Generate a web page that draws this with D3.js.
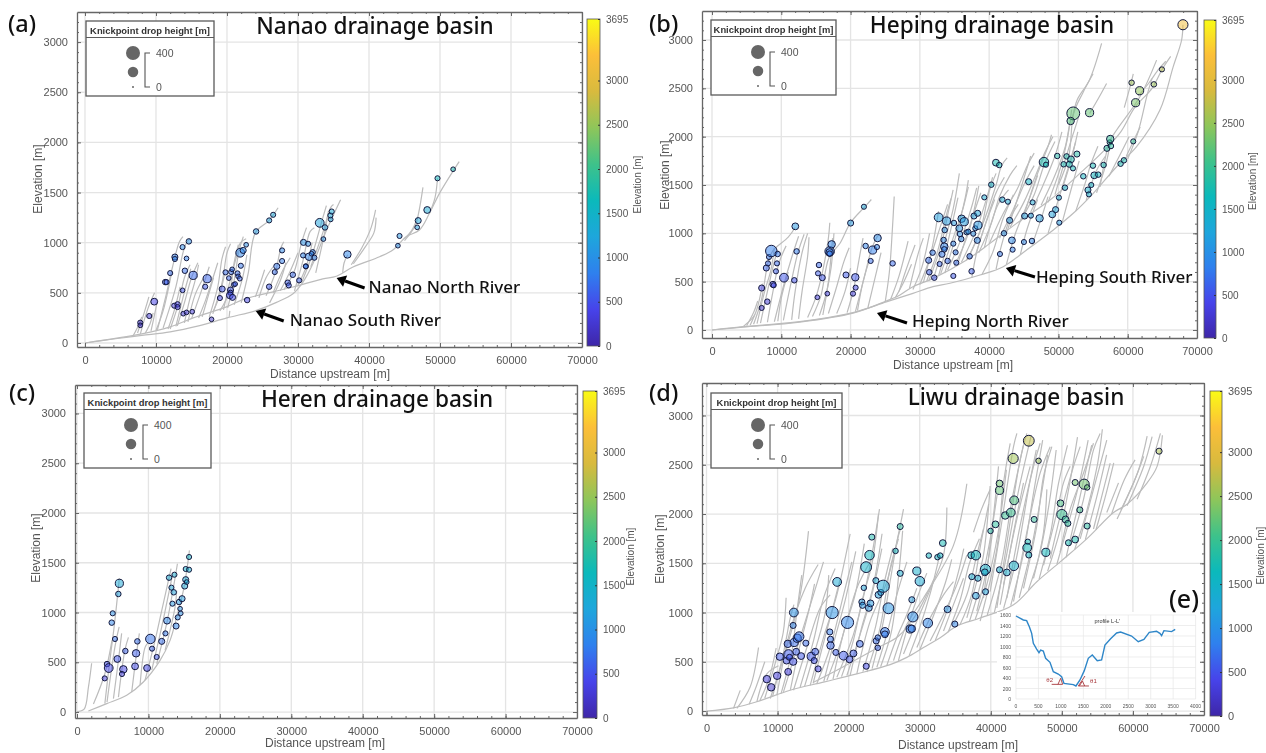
<!DOCTYPE html>
<html>
<head>
<meta charset="utf-8">
<style>
body { margin: 0; background: #fff; }
svg { filter: blur(0.4px); }
text { font-family: "Liberation Sans", Arial, sans-serif; fill: #555; }
.big { font-family: "Noto Sans", sans-serif; fill: #111; font-weight: 500; }
</style>
<script src="https://cdn.jsdelivr.net/npm/d3@7"></script>
</head>
<body>
<svg id="vimage" width="1266" height="753"></svg>
<script>
//---------------------------------------- data: [distance, elevation, drop] ---------------------------------------
var nanaoKnicks = [[7780,203,15],[7780,176,10],[9050,269,15],[9755,412,45],[11300,607,20],[11490,607,15],[12000,697,15],[12660,857,30],[12660,837,15],[13740,956,15],[14630,1013,20],[14300,843,10],[14070,720,20],[13740,525,10],[15240,674,80],[12570,372,15],[13040,385,20],[13040,358,15],[13840,292,10],[14300,305,10],[15100,312,10],[17210,641,80],[16930,561,15],[17820,236,10],[19000,448,15],[19320,538,30],[19790,704,15],[20590,707,15],[20730,734,10],[20260,647,10],[20500,528,30],[20500,501,15],[20400,475,45],[20780,455,30],[20970,581,10],[21150,588,10],[21480,694,15],[21570,664,10],[21800,641,10],[21950,770,15],[21860,900,100],[22280,923,30],[22700,979,10],[22840,428,20],[24100,1112,20],[25940,1222,15],[26500,1278,15],[25940,561,20],[26730,707,15],[27010,764,30],[27760,817,15],[27760,923,15],[28560,601,20],[28700,574,15],[29270,680,20],[30160,624,15],[30770,1003,30],[31420,989,15],[30720,873,15],[31560,860,60],[32080,906,15],[31900,890,10],[32310,850,15],[31100,764,15],[31100,764,10],[33060,1198,100],[33800,1152,20],[33580,1036,10],[34610,1232,10],[34560,1272,15],[34750,1311,15],[36960,883,60],[44070,970,10],[44300,1067,15],[46790,1153,10],[46930,1220,30],[48200,1326,45],[49650,1642,15],[51850,1732,10]];

var hepingKnicks = [[7170,228,15],[7980,293,20],[7170,434,30],[8800,472,30],[8900,462,15],[7840,641,30],[8080,689,15],[8225,755,15],[8560,817,210],[9476,786,20],[9380,689,15],[9235,607,15],[10390,541,100],[11880,514,20],[12220,813,20],[12025,1072,45],[15200,338,10],[15300,586,15],[15440,672,20],[15920,541,30],[16640,376,10],[16980,813,125],[16980,803,60],[16980,790,20],[17270,886,60],[19340,569,30],[20010,1106,30],[20680,545,60],[20730,438,15],[20350,376,15],[21930,1275,15],[22170,869,20],[23180,827,80],[22900,714,15],[23810,858,15],[23900,951,60],[26070,689,20],[32080,541,20],[31360,597,20],[31270,721,30],[32850,683,15],[31840,800,20],[33190,783,30],[33530,862,60],[33530,834,20],[33430,931,20],[34010,714,20],[34830,559,15],[35160,803,15],[35260,696,15],[34830,893,15],[33580,1034,20],[32710,1165,100],[33860,1127,80],[34920,1107,20],[35690,1052,45],[35790,993,20],[35980,941,20],[36030,1151,60],[36410,1120,80],[36750,1010,15],[36990,1017,15],[37710,996,15],[38000,1052,15],[37810,1179,30],[38340,1207,30],[38390,1083,80],[38290,927,30],[37180,762,20],[37470,607,20],[39300,1372,15],[40310,1503,20],[40980,1731,45],[41460,1706,20],[41900,1348,20],[42710,1327,15],[42950,1134,30],[42140,1000,20],[43290,927,45],[43390,831,15],[41560,786,15],[45020,910,15],[46180,921,20],[45120,1179,30],[46030,1183,15],[47280,1155,60],[45700,1534,30],[46270,1320,15],[47910,1737,125],[48200,1710,15],[49830,1800,20],[49110,1196,45],[49590,1245,30],[50120,1110,15],[50070,1369,15],[50940,1472,20],[51180,1796,20],[51810,1765,45],[50750,1714,20],[51570,1714,30],[52100,1672,15],[52670,1820,30],[52140,2241,280],[51760,2162,60],[54500,2248,80],[53590,1590,20],[54980,1700,20],[54260,1448,30],[54740,1500,15],[54400,1403,15],[55170,1600,45],[55750,1607,20],[56520,1707,20],[57000,1879,30],[57390,1941,15],[57480,1976,60],[57580,1903,20],[58970,1720,20],[59450,1755,20],[60800,1951,15],[61140,2351,80],[61720,2475,80],[60560,2558,20],[63780,2541,20],[64940,2696,15],[67970,3158,150]];

var herenKnicks = [[3880,338,15],[4200,482,20],[4440,442,100],[5320,734,15],[4860,898,20],[5000,992,15],[5790,1186,20],[5930,1293,80],[5650,533,45],[6490,429,60],[6300,382,15],[6770,613,20],[8130,459,45],[8270,590,60],[8450,710,20],[9810,442,45],[10270,734,125],[10510,637,15],[11160,553,15],[11860,710,30],[12380,790,15],[12610,918,45],[12890,1350,20],[13220,1250,15],[13540,1203,20],[13640,1380,15],[13360,1089,15],[13870,864,30],[14100,951,15],[14290,1105,20],[14520,992,10],[14430,1038,10],[14710,1139,30],[15080,1266,30],[15220,1330,30],[15360,1306,10],[15220,1437,15],[15690,1430,15],[15690,1558,15]];

var liwuKnicks = [[8490,324,60],[9100,241,60],[9940,358,60],[10320,552,60],[11490,398,45],[11440,682,60],[11260,512,45],[11540,575,125],[11680,545,30],[12190,502,60],[12330,696,80],[12620,602,45],[12760,739,80],[13040,756,125],[13320,558,45],[13980,689,30],[12190,869,30],[12290,1000,100],[14730,555,80],[15290,602,45],[15150,512,30],[15710,428,30],[17350,803,30],[17450,729,30],[17450,665,60],[17680,1000,245],[18200,595,30],[18380,1311,100],[19280,562,100],[19840,900,245],[20120,525,45],[20680,585,45],[21570,682,45],[22470,455,30],[21860,1107,30],[21950,1073,30],[22140,1251,20],[22460,1461,180],[22840,1047,45],[23070,1093,45],[22940,1582,125],[23260,1766,30],[23830,1324,30],[23870,712,30],[24100,746,20],[24100,642,20],[24200,1180,45],[24530,1204,30],[24860,1267,245],[25100,803,100],[25100,779,45],[25600,1043,180],[26600,1625,20],[27250,1873,30],[27250,1398,30],[28890,1130,30],[28660,833,80],[28890,836,60],[29030,956,150],[29590,1421,80],[30020,1318,125],[31140,893,125],[31280,1578,20],[32500,1562,20],[32880,1578,20],[33250,1705,45],[33910,1033,45],[34940,883,30],[37240,1582,45],[37900,1582,125],[37330,1364,30],[38180,1348,30],[37900,1170,45],[39260,1211,30],[39250,1438,150],[39160,1408,45],[39960,1828,20],[40660,1895,45],[42020,1985,60],[42820,2015,100],[41230,2240,80],[41230,2310,45],[43150,2564,150],[45350,2744,180],[46720,2540,20],[43290,2139,100],[46100,1945,30],[45210,1718,20],[45120,1658,100],[45350,1584,30],[47750,1611,80],[43240,1474,125],[42260,1407,45],[41230,1434,30],[49810,2109,45],[50000,1995,150],[50510,1945,45],[50840,1905,30],[52530,2042,30],[51870,2320,30],[53140,2303,150],[53560,2270,20],[53560,1878,30],[50930,1708,30],[51870,1741,45],[63680,2638,30]];

//---------------------------------------- data: channels as [distance, elevation] ---------------------------------------
var nanaoChannels = [
  [[0,0],[4000,40],[8000,75],[12000,110],[16000,170],[20000,250],[24150,325],[26970,405],[29300,491],[30700,607],[32100,790],[34000,1122],[36000,1428]],
  [[0,0],[8000,90],[12000,160],[15240,250],[19930,360],[22500,440],[26500,510],[29300,558],[33500,640],[35400,665],[37750,757],[41490,860],[43360,927],[45240,1060],[47100,1126],[48520,1293],[49930,1492],[52700,1808]],
  [[45000,1020],[46500,1170],[47000,1300],[47600,1552]],[[45000,1040],[46000,1120],[46900,1260]],[[48500,1290],[49300,1450],[49650,1642]],
  [[37500,780],[39000,950],[40300,1150],[40930,1326]],[[37800,790],[39500,960],[40700,1100],[41000,1250]],[[36300,700],[36500,800],[37000,880]],
  [[7400,100],[8200,270],[9000,460]],[[7800,90],[8800,330],[9800,500]],[[9300,120],[9700,250],[10200,420]],
  [[10200,130],[11500,500],[12300,750],[13300,1010],[13800,1060]],[[11000,150],[12800,560],[13800,900],[14300,1000],[14800,1040]],
  [[12000,140],[13200,400],[14000,650],[14800,780]],[[13000,170],[14000,400],[15000,650],[15900,800]],[[14000,200],[14700,420],[15500,620],[16000,780]],
  [[15000,240],[16300,500],[17500,760]],[[16500,260],[17400,480],[18100,650]],[[17500,260],[18700,560],[19300,840],[19800,960]],
  [[18000,290],[19300,600],[20000,900],[20500,990]],[[19500,330],[20500,640],[21300,850],[21900,1000],[22700,1040]],[[20100,350],[21000,620],[21700,920],[22300,1060]],
  [[20300,260],[20400,320]],[[22000,400],[23000,700],[24000,1100],[25900,1220],[27200,1348]],[[24500,450],[25500,650],[26500,760]],
  [[25500,470],[26800,700],[27600,950],[28000,1010]],[[26000,400],[27500,620],[28300,800]],[[28000,530],[29500,720],[30500,1000],[31200,1150]],
  [[29500,520],[30700,820],[31700,1110],[32300,1150]],[[30500,600],[32000,880],[33300,1200],[34000,1370]],[[31800,760],[33500,1100],[34600,1350],[35000,1380]],
  [[6800,75],[7500,170],[8000,260]],[[8500,100],[9200,200],[9600,300]],[[10000,125],[11000,320],[12200,700]],
  [[11700,140],[12600,330],[13400,560]],[[12800,165],[13900,480],[14900,740]],[[14500,210],[15500,480],[16700,650]],
  [[16000,250],[17000,430],[18700,800]],[[18000,310],[18800,440],[19700,700]],[[19000,320],[20400,520],[21000,800],[21600,980]],
  [[21000,380],[22200,650],[22800,880]],[[24000,460],[24800,620],[25300,730]],[[26500,500],[27900,730],[28900,850]],
  [[27500,520],[28800,700],[30000,900]],[[30000,575],[31100,750],[32000,1000]],[[32500,700],[33700,1080],[34300,1320]]
];

var hepingChannels = [
  [[0,0],[4470,34],[12650,86],[20350,180],[25160,290],[29000,379],[31890,448],[34345,483],[38680,569],[42040,655],[45410,828],[49260,1035],[52140,1207],[55030,1414],[58400,1689],[61280,1896],[64650,2275],[66570,2724],[67780,3000],[67970,3158]],
  [[0,0],[4470,30],[12650,82],[20350,175],[25160,300],[27130,362],[29000,448],[31940,534],[36750,724],[40120,896],[43960,1103],[48780,1344],[53100,1620],[56500,1850],[59000,2050],[61000,2300],[63500,2500],[65000,2700],[66200,2830]],
  [[4500,35],[5800,120],[6200,160]],[[6000,60],[7100,300],[8100,700],[8800,820],[11000,960],[12000,1060]],[[7000,70],[8000,400],[9300,780],[9600,820]],
  [[8000,80],[8800,400],[9700,700],[10700,870]],[[9000,85],[10300,450],[11500,750],[12500,970]],[[10300,100],[11300,450],[12400,800],[13300,990]],
  [[11500,105],[12000,400],[13000,800],[13800,1000]],[[13800,130],[15000,340],[16000,620],[16800,950],[17000,1110]],[[14500,140],[15700,350],[16900,750],[18500,900],[20000,1110],[22000,1270],[23000,1350]],
  [[15500,150],[16500,380],[17200,650],[17600,1000]],[[16800,170],[18000,450],[19000,700],[19800,850]],[[19500,180],[20300,380],[20800,560],[21400,800],[21800,950]],
  [[20700,190],[22000,550],[23000,830],[23800,960],[24200,1000]],[[25000,290],[25600,600],[26000,1000],[26300,1380]],[[25800,320],[27000,560],[28300,920]],
  [[27000,400],[28000,620],[29300,880]],[[28500,430],[29800,800],[30500,950]],
  [[30000,470],[31500,750],[33000,1080],[34000,1300]],[[31000,510],[32500,800],[33800,1180],[34500,1360]],[[32000,540],[33500,900],[34800,1250],[35700,1620]],
  [[33000,580],[34800,950],[36200,1250],[37000,1480]],[[34000,620],[36000,950],[37500,1280],[38200,1470]],[[35000,660],[37000,1000],[38000,1300],[38500,1490]],
  [[36000,700],[38000,1010],[39500,1330],[40500,1580]],[[37000,740],[39000,1080],[41000,1500],[41800,1700],[42600,1780]],[[38500,800],[40300,1100],[41500,1380],[43000,1600],[44000,1700]],
  [[40000,890],[42000,1200],[44000,1450],[45500,1700],[46500,1830]],[[41500,950],[43500,1250],[45200,1530],[46500,1700]],[[43000,1060],[45000,1320],[47000,1650],[48000,1830],[49200,2000]],
  [[44500,1120],[46500,1400],[48000,1720],[49500,1950]],[[46000,1220],[47800,1500],[49500,1800],[50500,2050]],[[47500,1290],[49500,1600],[51000,1900],[51700,2150],[52000,2200],[52700,2380],[54500,2590],[56230,2965]],
  [[50000,1500],[51500,1800],[52200,2240],[53500,2450],[55000,2650]],[[54500,2240],[55800,2400],[56950,2550]],
  [[37500,540],[38200,800],[39500,1100],[40800,1350]],[[39000,580],[40500,800],[42000,1150],[43500,1400]],[[41000,630],[41800,880],[43000,1150],[44200,1300]],
  [[42500,680],[43800,1000],[45500,1300],[47000,1600]],[[44500,780],[45500,1050],[47000,1350]],[[46200,880],[47500,1150],[48500,1380]],
  [[48500,1000],[50000,1350],[51500,1700],[52500,1950]],[[50500,1100],[52000,1500],[53000,1750]],[[52500,1230],[54000,1550],[54600,1700],[55700,1900]],
  [[54000,1340],[55500,1650],[56800,1800]],[[56000,1480],[57400,1950],[58400,2069],[61760,2413],[64170,2792]],[[59800,1800],[60800,1950],[61800,2100]],[[59500,2300],[60500,2560],[60800,2650]],
  [[61500,2420],[63000,2550],[64500,2700],[65500,2780]],
  [[5000,45],[6000,180],[6600,300]],[[5500,50],[6500,220],[7300,480]],[[6500,65],[7600,400],[8500,620],[9000,850]],
  [[9500,90],[10000,330],[11000,600]],[[12500,115],[13000,400],[13800,760],[14000,960]],[[16000,155],[16800,500],[17400,950]],
  [[18000,170],[19200,400],[20000,640]],[[21000,200],[21800,500],[22700,720]],[[22500,230],[23400,500],[24400,800]],
  [[26500,340],[27700,500],[28800,680]],[[29000,420],[30300,650],[31400,1000]],[[30500,490],[31800,860],[32700,1230]],
  [[31300,510],[33000,860],[34200,1250],[34800,1450]],[[32700,560],[34000,900],[35500,1370]],[[33600,590],[35300,1000],[36500,1350],[37000,1550]],
  [[35500,690],[37300,1100],[38800,1420]],[[36700,720],[38700,1020],[40000,1430],[41000,1620]],[[38000,770],[39700,1150],[41000,1420],[42200,1580]],
  [[39300,850],[41300,1300],[42800,1450]],[[42500,1000],[44500,1450],[46000,1800]],[[45000,1180],[47000,1620],[48500,1900],[49000,2020]],
  [[48500,1320],[50300,1680],[51300,1980],[51900,2280]],[[49500,1400],[50800,1720],[52000,2000],[52900,2200]],[[50500,1450],[51800,1750],[52800,2050]],
  [[55500,1420],[56800,1700],[57600,1980]],[[57300,1590],[58800,1800],[60200,2000]],[[60000,1770],[61500,2050],[62800,2430],[63500,2600]]
];

var herenChannels = [
  [[1590,10],[4160,84],[6960,168],[9290,302],[11630,519],[13030,720],[13960,955],[14990,1256],[15740,1625]],
  [[0,5],[1000,30],[1600,250],[2050,490]],[[2300,80],[3900,385],[4900,720]],[[3900,85],[4600,520],[5200,855],[5930,1345]],[[4200,100],[5300,650],[5900,855]],
  [[5100,135],[5800,520],[6250,790]],[[5800,150],[6700,620],[7200,750]],[[7660,200],[8270,555],[8730,790]],[[8830,270],[9530,650],[9990,700]],
  [[9530,320],[10930,720],[11860,1020],[13170,1440]],[[10460,420],[11860,855],[13400,1390]],[[11160,485],[12560,890],[14060,1490]],[[12330,620],[13730,1055],[13960,1220]]
];

var liwuChannels = [
  [[0,0],[3800,33],[7080,94],[11770,211],[16460,294],[21150,378],[25840,471],[28190,545],[30530,645],[32880,745],[35220,863],[38500,945],[43200,1079],[46480,1313],[49760,1514],[53500,1748],[57270,2015],[59175,2100],[62000,2317],[63400,2484],[64150,2800]],
  [[15000,290],[19000,440],[24000,640],[27000,760],[29500,980],[32000,1340]],
  [[3800,27],[4740,210]],[[4270,27],[6140,244],[7320,645]],[[7080,94],[8490,378],[10130,460]],[[8960,127],[11300,645],[13180,1180],[14350,1826]],
  [[9900,160],[11770,813],[13880,1247],[15710,1488]],[[10830,194],[13180,746],[15050,1180],[16460,1515]],[[12240,211],[14120,645],[15990,1047],[17400,1180]],
  [[13180,244],[15050,712],[16460,1147],[18100,1448]],[[14590,261],[16460,746],[18340,1180],[20210,1799]],[[15520,278],[17400,645],[19280,1180],[20450,1515]],
  [[16930,311],[18810,679],[21150,1247],[23030,1515]],[[18340,344],[20680,779],[22560,1314],[24340,2050]],[[19750,361],[21620,779],[23260,1180],[24670,1649]],
  [[21150,378],[23030,913],[25370,1314],[27720,2050]],[[22560,395],[24430,846],[25840,1448],[27010,1749]],[[23970,445],[25370,779],[26780,1180],[28190,1515]],
  [[25370,462],[26780,746],[28190,980],[29600,1247]],[[26310,512],[28190,879],[30530,1147],[34750,1682],[36630,2307]],[[27720,579],[29600,913],[31940,1314],[33350,1582],[33820,2067]],
  [[29600,645],[31470,946],[33350,1180],[34750,1314]],[[31470,712],[33350,980],[35220,1281],[36630,1582]],[[33350,813],[34750,1080],[36160,1348]],
  [[34750,880],[36630,1180],[38030,1582],[38970,1849]],[[36630,946],[38030,1314],[38970,1582],[39910,2284]],[[38030,1013],[39440,1448],[40380,1883]],
  [[37570,1815],[38700,2050],[39910,2250]],[[39910,1213],[41320,1815],[43200,2684],[43670,2818]],[[40850,1046],[42490,1815],[44130,2550],[45070,2818]],
  [[42260,1146],[44130,1882],[46010,2484],[46950,2718]],[[43200,1112],[45070,1815],[46950,2417],[48360,2684]],[[44600,1246],[46480,1882],[47420,2383],[48590,2684]],
  [[46010,1347],[47420,1815],[47890,2250]],[[41320,1079],[43200,1815],[44600,2316]],[[41790,1280],[43670,1949],[45540,2484]],
  [[38500,912],[40850,1647],[41790,2316],[42730,2718]],[[38970,1146],[40380,1982],[41090,2484]],[[47420,1480],[49290,2015],[50230,2316],[51170,2484]],
  [[48360,1547],[50000,2049],[51640,2484],[52580,2684]],[[49760,1614],[51170,2049],[53050,2417],[54450,2718]],[[51170,1681],[53050,2149],[54450,2651],[55390,2818]],
  [[52580,1748],[54450,2250],[56320,2751]],[[54450,1848],[55860,2250],[56800,2517]],[[56320,2015],[57970,2316]],[[59175,2083],[61520,2485],[62700,2785]],
  [[60590,2150],[62460,2485],[63870,2819]],[[57770,1949],[60100,2317],[61520,2585]],
  [[6000,70],[7000,250],[8200,500]],[[7500,105],[8800,330],[9800,640]],[[8200,130],[9800,520],[10800,800],[11200,1150]],
  [[9300,150],[10800,580],[11800,950],[12300,1080]],[[10500,180],[12000,600],[12700,1000],[13400,1380]],[[11800,215],[13000,620],[14500,1050],[15200,1290]],
  [[13800,250],[15300,620],[16700,1000],[17200,1380]],[[15000,280],[16200,620],[17600,1000],[18800,1340]],[[16500,300],[18000,720],[19500,1120],[21000,1620]],
  [[17800,325],[19300,800],[20900,1180],[22200,1700]],[[19000,350],[20600,700],[22000,1150],[23300,1500],[24200,2000]],[[20200,360],[21800,840],[23400,1250],[24700,1800]],
  [[22000,400],[23800,860],[25000,1300],[26200,1650]],[[23300,430],[24800,880],[25800,1300],[26900,1750],[27300,1850]],[[24500,450],[26000,800],[27000,1350],[27600,1830]],
  [[27000,510],[28500,900],[29800,1180],[31000,1400]],[[28500,560],[30000,850],[31500,1200],[32700,1550]],[[30000,620],[32000,980],[33600,1300],[34500,1540]],
  [[32200,720],[34000,1050],[35400,1400],[36200,1650]],[[34000,800],[35700,1130],[37000,1500],[38400,1750]],[[35700,880],[37300,1180],[38600,1700],[39700,2100]],
  [[37000,910],[38600,1300],[39800,1700],[40900,2200]],[[37800,930],[39500,1300],[41000,1800],[42200,2450]],[[39500,975],[41500,1500],[43000,2150],[44600,2700]],
  [[40500,1000],[42000,1500],[43800,2200],[45700,2800]],[[41800,1040],[43600,1550],[45300,2250],[46400,2650]],[[42800,1070],[44600,1600],[46100,2250],[47300,2750]],
  [[44000,1150],[45700,1650],[47000,2150],[48000,2600]],[[45300,1230],[46900,1600],[48200,2100],[49200,2650]],[[46800,1340],[48400,1800],[49500,2300],[50800,2700]],
  [[48000,1420],[49800,1850],[51200,2350],[52200,2780]],[[49300,1490],[50900,1900],[52400,2300],[53700,2750]],[[50600,1560],[52000,2000],[53400,2450],[54200,2700]],
  [[51800,1640],[53400,2000],[55000,2500],[55700,2860]],[[53300,1740],[55000,2200],[56300,2600]],[[54800,1840],[56200,2200],[57300,2520]],
  [[57000,2000],[58800,2350],[60300,2550]],[[58300,2040],[60800,2450],[62000,2790]]
];

// inset profile L-L'
var profileLine = [[0,1581],[163,1505],[237,1492],[297,1378],[349,1251],[386,1060],[460,952],[512,883],[549,933],[608,914],[660,775],[757,698],[831,521],[942,476],[1016,425],[1068,298],[1276,273],[1335,248],[1425,362],[1521,540],[1610,775],[1699,838],[1810,730],[1907,743],[1981,1029],[2107,1149],[2241,1257],[2330,1276],[2575,1200],[2723,1092],[2849,1137],[2968,1270],[3131,1289],[3205,1251],[3243,1206],[3295,1302],[3465,1283],[3546,1327]];
var profileAngles = [[[794,279],[1039,279]],[[935,279],[994,394],[1039,279]],[[1388,248],[1625,248]],[[1388,248],[1536,438]],[[1410,248],[1480,340],[1530,248]]];

var xTicks = [0,10000,20000,30000,40000,50000,60000,70000];
var yTicks = [0,500,1000,1500,2000,2500,3000];
var cbTicks = [0,500,1000,1500,2000,2500,3000,3695];
var legendDrops = [400,200,0];
var parulaStops = ["#3e26a8","#4743ea","#2f80ee","#1ea6dc","#0bb9bb","#3ec28a","#8ec65a","#d8ba3e","#fcbf39","#f9fb15"];

//---------------------------------------- shared scales ---------------------------------------
var svg = d3.select("#vimage");
var color = d3.scaleLinear()
    .domain(parulaStops.map(function(c, i) { return 3695 * i / (parulaStops.length - 1); }))
    .range(parulaStops);
var size = d3.scaleSqrt().domain([0, 400]).range([1, 7]);
var markSize = d3.scaleSqrt().domain([0, 400]).range([1.4, 7.4]);

// gradient for the colorbars
var grad = svg.append("defs").append("linearGradient")
    .attr("id", "parula").attr("x1", 0).attr("y1", 1).attr("x2", 0).attr("y2", 0);
parulaStops.forEach(function(c, i) {
    grad.append("stop").attr("offset", i / (parulaStops.length - 1)).attr("stop-color", c);
});

function range(a, b, step) { return d3.range(a, b + 1, step); }

//---------------------------------------- one panel ---------------------------------------
function drawPanel(p) {
    var x = d3.scaleLinear().domain([p.xmin, 70000]).range([p.left, p.right]);
    var y = d3.scaleLinear().domain([p.ymin, p.ymax]).range([p.bottom, p.top]);
    var g = svg.append("g");

    // grid
    g.selectAll(".gx").data(xTicks).enter().append("line")
        .attr("x1", x).attr("x2", x).attr("y1", p.top).attr("y2", p.bottom)
        .attr("stroke", "#e4e4e4").attr("stroke-width", 1.3);
    g.selectAll(".gy").data(yTicks).enter().append("line")
        .attr("y1", y).attr("y2", y).attr("x1", p.left).attr("x2", p.right)
        .attr("stroke", "#e4e4e4").attr("stroke-width", 1.3);

    // channels
    var line = d3.line().x(function(d) { return x(d[0]); }).y(function(d) { return y(d[1]); }).curve(d3.curveCatmullRom);
    g.selectAll(".ch").data(p.channels).enter().append("path")
        .attr("d", line).attr("fill", "none").attr("stroke", "#bcbcbc").attr("stroke-width", 1.2);

    // knickpoints
    g.selectAll(".kp").data(p.knicks).enter().append("circle")
        .attr("cx", function(d) { return x(d[0]); })
        .attr("cy", function(d) { return y(d[1]); })
        .attr("r", function(d) { return markSize(d[2]); })
        .attr("fill", function(d) { return color(d[1]); })
        .attr("fill-opacity", 0.52)
        .attr("stroke", "#14183c").attr("stroke-width", 1);

    // frame, ticks point inward on all four sides
    function axis(a, tx, ty, vals, len, fmt, keepPath) {
        var ax = g.append("g").attr("transform", "translate(" + tx + "," + ty + ")")
            .call(a.tickValues(vals).tickSize(-len).tickSizeOuter(0).tickFormat(fmt).tickPadding(len + 5));
        if (keepPath) ax.selectAll("path").attr("stroke", "#666").attr("stroke-width", 1.3);
        else ax.select("path").remove();
        ax.selectAll("line").attr("stroke", "#666");
        ax.selectAll("text").attr("font-size", 11).style("font-family", "Liberation Sans").attr("fill", "#555");
        return ax;
    }
    var none = function() { return ""; };
    var xMinor = range(0, 70000, 2000), yMinor = range(0, 3200, 100);
    [[d3.axisBottom, 0, p.bottom], [d3.axisTop, 0, p.top]].forEach(function(s) {
        axis(s[0](x), 0, s[2], xMinor, 2, none, false);
        axis(s[0](x), 0, s[2], xTicks, 4, s[2] == p.bottom ? d3.format("d") : none, true);
    });
    [[d3.axisLeft, p.left], [d3.axisRight, p.right]].forEach(function(s) {
        axis(s[0](y), s[1], 0, yMinor, 2, none, false);
        axis(s[0](y), s[1], 0, yTicks, 4, s[1] == p.left ? d3.format("d") : none, true);
    });

    // axis labels
    g.append("text").attr("x", p.xLab[0]).attr("y", p.xLab[1]).attr("text-anchor", "middle")
        .attr("font-size", 12).text("Distance upstream [m]");
    g.append("text").attr("transform", "translate(" + p.yLab[0] + "," + p.yLab[1] + ") rotate(-90)")
        .attr("text-anchor", "middle").attr("font-size", 12).text("Elevation [m]");

    // title and panel letter
    g.append("text").attr("class", "big").attr("x", p.titleX).attr("y", p.top + 22)
        .attr("text-anchor", "middle").attr("font-size", 22.6).text(p.title);
    g.append("text").attr("class", "big").attr("x", p.letter[0]).attr("y", p.letter[1])
        .attr("font-size", 23.5).text(p.name);

    // colorbar
    var cb = d3.scaleLinear().domain([0, 3695]).range([p.cb[3], p.cb[2]]);
    g.append("rect").attr("x", p.cb[0]).attr("y", p.cb[2]).attr("width", p.cb[1] - p.cb[0])
        .attr("height", p.cb[3] - p.cb[2]).attr("fill", "url(#parula)").attr("stroke", "#555").attr("stroke-width", 0.8);
    var cbAxis = g.append("g").attr("transform", "translate(" + p.cb[1] + ",0)")
        .call(d3.axisRight(cb).tickValues(cbTicks).tickSize(-2).tickPadding(6).tickFormat(d3.format("d")));
    cbAxis.select("path").remove();
    cbAxis.selectAll("line").attr("stroke", "#333");
    cbAxis.selectAll("text").attr("font-size", p.cbFont).style("font-family", "Liberation Sans").attr("fill", "#555");
    g.append("text").attr("transform", "translate(" + (p.cb[1] + p.cbLab) + "," + ((p.cb[2] + p.cb[3]) / 2 + 2) + ") rotate(-90)")
        .attr("text-anchor", "middle").attr("font-size", 10).text("Elevation [m]");

    // size legend
    var L = p.legend, cxL = L[0] + 47;
    var lg = g.append("g");
    lg.append("rect").attr("x", L[0]).attr("y", L[1]).attr("width", L[2]).attr("height", 75)
        .attr("fill", "#fff").attr("stroke", "#5a5a5a").attr("stroke-width", 1.3);
    lg.append("line").attr("x1", L[0]).attr("x2", L[0] + L[2]).attr("y1", L[1] + 16.5).attr("y2", L[1] + 16.5)
        .attr("stroke", "#5a5a5a").attr("stroke-width", 1.2);
    lg.append("text").attr("x", L[0] + L[2] / 2).attr("y", L[1] + 12.5).attr("text-anchor", "middle")
        .attr("font-size", 9.4).attr("font-weight", "bold").style("fill", "#333").text("Knickpoint drop height [m]");
    var legY = [32, 51, 66];
    lg.selectAll(".lc").data(legendDrops).enter().append("circle")
        .attr("cx", cxL).attr("cy", function(d, i) { return L[1] + legY[i]; })
        .attr("r", function(d) { return size(d); }).attr("fill", "#666");
    lg.append("path").attr("fill", "none").attr("stroke", "#555").attr("stroke-width", 1.1)
        .attr("d", d3.line()([[cxL + 17, L[1] + 32], [cxL + 12, L[1] + 32], [cxL + 12, L[1] + 66], [cxL + 17, L[1] + 66]]));
    lg.append("text").attr("x", cxL + 23).attr("y", L[1] + 36).attr("font-size", 10.5).text("400");
    lg.append("text").attr("x", cxL + 23).attr("y", L[1] + 70).attr("font-size", 10.5).text("0");

    // river arrows
    (p.arrows || []).forEach(function(a) {
        var x0 = x(a.tail[0]), y0 = y(a.tail[1]), x1 = x(a.tip[0]), y1 = y(a.tip[1]);
        var ang = Math.atan2(y1 - y0, x1 - x0);
        var bx = x1 - 9 * Math.cos(ang), by = y1 - 9 * Math.sin(ang);
        g.append("line").attr("x1", x0).attr("y1", y0).attr("x2", bx).attr("y2", by)
            .attr("stroke", "#000").attr("stroke-width", 3);
        g.append("path").attr("fill", "#000").attr("d", d3.line()([[x1, y1],
            [bx - 6 * Math.sin(ang), by + 6 * Math.cos(ang)], [bx + 6 * Math.sin(ang), by - 6 * Math.cos(ang)]]) + "Z");
        g.append("text").attr("class", "big").attr("x", x(a.at[0])).attr("y", y(a.at[1]))
            .attr("font-size", 17).text(a.label);
    });

    return { x: x, y: y };
}

//---------------------------------------- panels ---------------------------------------
drawPanel({ name: "(a)", title: "Nanao drainage basin", titleX: 375, letter: [8, 32],
    left: 77, right: 582, top: 12, bottom: 347, xmin: -1125, ymin: -40, ymax: 3300,
    channels: nanaoChannels, knicks: nanaoKnicks,
    cb: [587, 600, 19, 346], cbFont: 10, cbLab: 41, legend: [86, 21, 128],
    xLab: [330, 378], yLab: [42, 179],
    arrows: [{ label: "Nanao North River", tip: [35440, 648], tail: [39380, 548], at: [39940, 498] },
             { label: "Nanao South River", tip: [24050, 319], tail: [27990, 219], at: [28830, 170] }] });

drawPanel({ name: "(b)", title: "Heping drainage basin", titleX: 992, letter: [649, 32],
    left: 702, right: 1197, top: 11, bottom: 338, xmin: -1443, ymin: -83, ymax: 3300,
    channels: hepingChannels, knicks: hepingKnicks,
    cb: [1204, 1216, 20, 338], cbFont: 10, cbLab: 40, legend: [711, 20, 125],
    xLab: [953, 369], yLab: [669, 175],
    arrows: [{ label: "Heping South River", tip: [42420, 641], tail: [46610, 548], at: [46750, 486] },
             { label: "Heping North River", tip: [23810, 176], tail: [28140, 72], at: [28860, 31] }] });

drawPanel({ name: "(c)", title: "Heren drainage basin", titleX: 377, letter: [9, 401],
    left: 75, right: 577, top: 385, bottom: 718, xmin: -280, ymin: -60, ymax: 3286,
    channels: herenChannels, knicks: herenKnicks,
    cb: [583, 597, 391, 718], cbFont: 10, cbLab: 37, legend: [84, 393, 127],
    xLab: [325, 747], yLab: [40, 548] });

drawPanel({ name: "(d)", title: "Liwu drainage basin", titleX: 1016, letter: [649, 401],
    left: 702, right: 1204, top: 383, bottom: 715, xmin: -634, ymin: -40, ymax: 3330,
    channels: liwuChannels, knicks: liwuKnicks,
    cb: [1210, 1222, 391, 716], cbFont: 11, cbLab: 42, legend: [711, 393, 131],
    xLab: [958, 749], yLab: [664, 549] });

//---------------------------------------- inset (e) ---------------------------------------
var inset = svg.append("g");
var ix = d3.scaleLinear().domain([0, 4000]).range([1016, 1195.6]);
var iy = d3.scaleLinear().domain([0, 1600]).range([699, 615]);
inset.append("rect").attr("x", 997).attr("y", 612).attr("width", 203).attr("height", 98).attr("fill", "#fff");
inset.selectAll(".ig").data(d3.range(0, 4001, 500)).enter().append("line")
    .attr("x1", ix).attr("x2", ix).attr("y1", iy(1600)).attr("y2", iy(0)).attr("stroke", "#e6e6e6").attr("stroke-width", 0.7);
inset.selectAll(".ih").data(d3.range(0, 1601, 200)).enter().append("line")
    .attr("y1", iy).attr("y2", iy).attr("x1", ix(0)).attr("x2", ix(4000)).attr("stroke", "#e6e6e6").attr("stroke-width", 0.7);
inset.selectAll(".ixt").data(d3.range(0, 4001, 500)).enter().append("text")
    .attr("x", ix).attr("y", 708).attr("text-anchor", "middle").attr("font-size", 5).text(function(d) { return d; });
inset.selectAll(".iyt").data(d3.range(0, 1601, 200)).enter().append("text")
    .attr("x", 1011).attr("y", function(d) { return iy(d) + 2; }).attr("text-anchor", "end").attr("font-size", 5).text(function(d) { return d; });
var iLine = d3.line().x(function(d) { return ix(d[0]); }).y(function(d) { return iy(d[1]); });
inset.append("path").attr("d", iLine(profileLine)).attr("fill", "none").attr("stroke", "#2e86c8").attr("stroke-width", 1.4);
inset.selectAll(".ia").data(profileAngles).enter().append("path").attr("d", iLine)
    .attr("fill", "none").attr("stroke", "#a8383c").attr("stroke-width", 0.9);
inset.append("text").attr("x", ix(1750)).attr("y", iy(1450)).attr("font-size", 5.5).style("fill", "#333").text("profile L-L'");
inset.append("text").attr("x", ix(750)).attr("y", iy(330)).attr("font-size", 6).style("fill", "#a8383c").attr("text-anchor", "middle").text("θ2");
inset.append("text").attr("x", ix(1650)).attr("y", iy(300)).attr("font-size", 6).style("fill", "#a8383c").text("θ1");
inset.append("text").attr("class", "big").attr("x", 1169).attr("y", 608).attr("font-size", 25).text("(e)");
</script>
</body>
</html>
